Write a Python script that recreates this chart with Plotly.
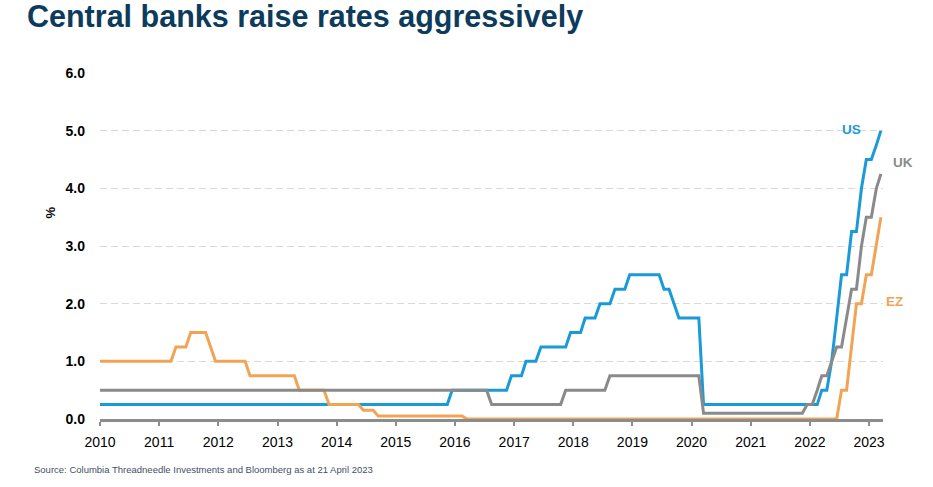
import plotly.graph_objects as go

# ---- data (policy rates, %, knots of the monthly series) ----
us_dates = ["2010-01-01", "2015-11-15", "2015-12-15", "2016-11-15", "2016-12-15",
            "2017-02-15", "2017-03-15", "2017-05-15", "2017-06-15", "2017-11-15",
            "2017-12-15", "2018-02-15", "2018-03-15", "2018-05-15", "2018-06-15",
            "2018-08-15", "2018-09-15", "2018-11-15", "2018-12-15", "2019-06-15",
            "2019-07-15", "2019-08-15", "2019-09-15", "2019-10-15", "2020-02-15",
            "2020-03-15", "2022-02-15", "2022-03-15", "2022-04-15", "2022-05-15",
            "2022-06-15", "2022-07-15", "2022-08-15", "2022-09-15", "2022-10-15",
            "2022-11-15", "2022-12-15", "2023-01-15", "2023-02-15", "2023-03-15"]
us_values = [0.25, 0.25, 0.5, 0.5, 0.75,
             0.75, 1.0, 1.0, 1.25, 1.25,
             1.5, 1.5, 1.75, 1.75, 2.0,
             2.0, 2.25, 2.25, 2.5, 2.5,
             2.25, 2.25, 2.0, 1.75, 1.75,
             0.25, 0.25, 0.5, 0.5, 1.0,
             1.75, 2.5, 2.5, 3.25, 3.25,
             4.0, 4.5, 4.5, 4.75, 5.0]

uk_dates = ["2010-01-01", "2016-07-15", "2016-08-15", "2017-10-15", "2017-11-15",
            "2018-07-15", "2018-08-15", "2020-02-15", "2020-03-15", "2021-11-15",
            "2021-12-15", "2022-01-15", "2022-02-15", "2022-03-15", "2022-04-15",
            "2022-05-15", "2022-06-15", "2022-07-15", "2022-08-15", "2022-09-15",
            "2022-10-15", "2022-11-15", "2022-12-15", "2023-01-15", "2023-02-15",
            "2023-03-15"]
uk_values = [0.5, 0.5, 0.25, 0.25, 0.5,
             0.5, 0.75, 0.75, 0.1, 0.1,
             0.25, 0.25, 0.5, 0.75, 0.75,
             1.0, 1.25, 1.25, 1.75, 2.25,
             2.25, 3.0, 3.5, 3.5, 4.0,
             4.25]

ez_dates = ["2010-01-01", "2011-03-15", "2011-04-15", "2011-06-15", "2011-07-15",
            "2011-10-15", "2011-11-15", "2011-12-15", "2012-06-15", "2012-07-15",
            "2013-04-15", "2013-05-15", "2013-10-15", "2013-11-15", "2014-05-15",
            "2014-06-15", "2014-08-15", "2014-09-15", "2016-02-15", "2016-03-15",
            "2022-06-15", "2022-07-15", "2022-08-15", "2022-09-15", "2022-10-15",
            "2022-11-15", "2022-12-15", "2023-01-15", "2023-02-15", "2023-03-15"]
ez_values = [1.0, 1.0, 1.25, 1.25, 1.5,
             1.5, 1.25, 1.0, 1.0, 0.75,
             0.75, 0.5, 0.5, 0.25, 0.25,
             0.15, 0.15, 0.05, 0.05, 0.0,
             0.0, 0.5, 0.5, 1.25, 2.0,
             2.0, 2.5, 2.5, 3.0, 3.5]

year_ticks = ["2010", "2011", "2012", "2013", "2014", "2015", "2016",
              "2017", "2018", "2019", "2020", "2021", "2022", "2023"]
y_ticks = [0, 1, 2, 3, 4, 5, 6]

# ---- styling ----
FONT = "Liberation Sans, Arial, sans-serif"
C_US = "#1a9ad6"
C_UK = "#8a8a8a"
C_EZ = "#f2a455"
AXIS = "#8c8c8c"

fig = go.Figure()
fig.add_trace(go.Scatter(x=us_dates, y=us_values, mode="lines", name="US",
                         line=dict(color=C_US, width=3), showlegend=False))
fig.add_trace(go.Scatter(x=ez_dates, y=ez_values, mode="lines", name="EZ",
                         line=dict(color=C_EZ, width=3), showlegend=False))
fig.add_trace(go.Scatter(x=uk_dates, y=uk_values, mode="lines", name="UK",
                         line=dict(color=C_UK, width=3), showlegend=False))

fig.update_layout(
    width=933, height=487,
    margin=dict(l=100, r=50, t=73, b=68),
    paper_bgcolor="white", plot_bgcolor="white",
    font=dict(family=FONT, color="black"),
    title=dict(text="Central banks raise rates aggressively",
               font=dict(family=FONT, size=30.5, color="#0d3b5c", weight="bold"),
               xref="container", x=27 / 933, xanchor="left",
               yref="container", y=1 - 6 / 487, yanchor="top", pad=dict(t=0, l=0)),
)

fig.update_xaxes(
    type="date",
    range=["2010-01-01", "2023-03-28"],
    tickvals=[f"{y}-01-01" for y in year_ticks],
    ticktext=year_ticks,
    ticks="outside", ticklen=4, tickwidth=1.5, tickcolor=AXIS,
    showline=True, linecolor=AXIS, linewidth=2.5,
    showgrid=False, zeroline=False,
    ticklabelstandoff=4,
    tickfont=dict(family=FONT, size=14, color="black"),
)
fig.update_yaxes(
    range=[0, 6],
    tickvals=y_ticks,
    tickformat=".1f",
    showgrid=True, gridcolor="#d9d9d9", gridwidth=1, griddash="7px,4px",
    zeroline=False, showline=False, ticks="",
    ticklabelstandoff=14,
    tickfont=dict(family=FONT, size=14, color="black", weight="bold"),
)

annotations = [
    dict(text="%", xref="paper", yref="y", x=(51 - 100) / 783, y=3.58,
         xanchor="center", yanchor="middle",
         textangle=-90, showarrow=False,
         font=dict(family=FONT, size=13, color="black", weight="bold")),
    dict(text="US", xref="paper", yref="y", x=(851 - 100) / 783, y=5.02,
         xanchor="center", yanchor="middle",
         showarrow=False, font=dict(family=FONT, size=13.5, color=C_US, weight="bold")),
    dict(text="UK", xref="paper", yref="y", x=(903 - 100) / 783, y=4.44,
         xanchor="center", yanchor="middle",
         showarrow=False, font=dict(family=FONT, size=13.5, color=C_UK, weight="bold")),
    dict(text="EZ", xref="paper", yref="y", x=(894 - 100) / 783, y=2.03,
         xanchor="center", yanchor="middle",
         showarrow=False, font=dict(family=FONT, size=13.5, color=C_EZ, weight="bold")),
    dict(text="Source: Columbia Threadneedle Investments and Bloomberg as at 21 April 2023",
         xref="paper", yref="paper", x=(32 - 100) / 783, y=(419 - 469) / 346,
         xanchor="left", yanchor="middle", showarrow=False,
         font=dict(family=FONT, size=9.5, color="#3f5068")),
]
fig.update_layout(annotations=annotations)

fig.write_html("out.html",
               config={"displayModeBar": False},
               post_script="document.body.style.margin='0';document.body.style.overflow='hidden';")
